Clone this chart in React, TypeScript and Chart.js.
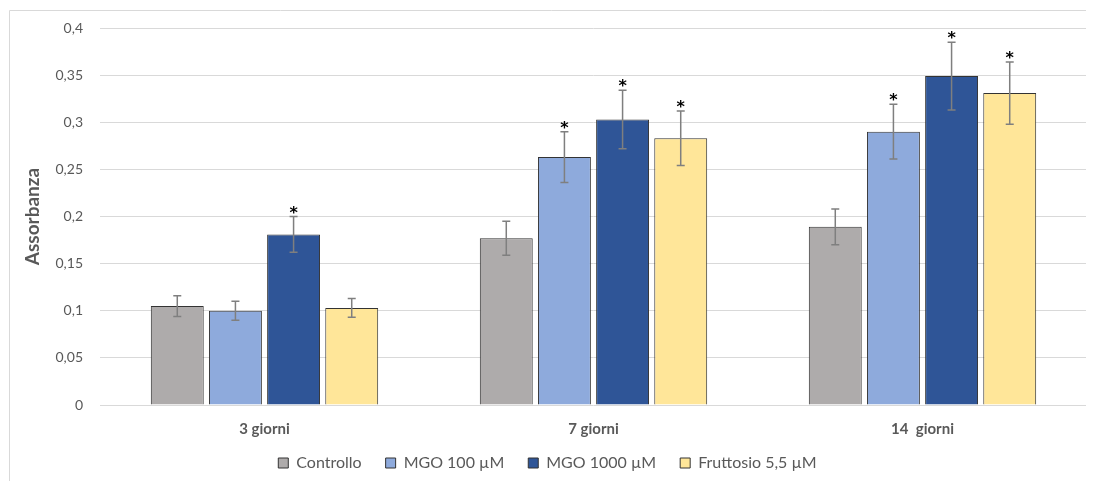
import React, { useEffect, useRef } from "react";
import { Chart, registerables } from "chart.js";

Chart.register(...registerables);

const categories = ["3 giorni", "7 giorni", "14  giorni"];
const seriesNames = ["Controllo", "MGO 100 µM", "MGO 1000 µM", "Fruttosio 5,5 µM"];
const controllo = [0.105, 0.177, 0.189];
const mgo100 = [0.1, 0.263, 0.29];
const mgo1000 = [0.181, 0.303, 0.349];
const fruttosio = [0.103, 0.283, 0.331];
const errControllo = [0.011, 0.018, 0.019];
const errMgo100 = [0.01, 0.027, 0.029];
const errMgo1000 = [0.019, 0.031, 0.036];
const errFruttosio = [0.01, 0.029, 0.033];
const sigControllo = [false, false, false];
const sigMgo100 = [false, true, true];
const sigMgo1000 = [true, true, true];
const sigFruttosio = [false, true, true];
const yTicks = [0, 0.05, 0.1, 0.15, 0.2, 0.25, 0.3, 0.35, 0.4];
const yTickLabels = ["0", "0,05", "0,1", "0,15", "0,2", "0,25", "0,3", "0,35", "0,4"];

const colors = ["#aeabab", "#8eaadc", "#2f5597", "#ffe699"];
const values = [controllo, mgo100, mgo1000, fruttosio];
const errors = [errControllo, errMgo100, errMgo1000, errFruttosio];
const sigs = [sigControllo, sigMgo100, sigMgo1000, sigFruttosio];

const FONT = "Lato, 'Open Sans', sans-serif";
const TEXT = "#595959";

export default function App() {
  const ref = useRef<HTMLCanvasElement | null>(null);
  useEffect(() => {
    if (!ref.current) return;
    const framePlugin = {
      id: "frame",
      beforeDraw(chart: any) {
        const lg = chart.legend;
        if (lg) {
          lg.top = 423;
          lg.bottom = chart.height;
          lg.height = chart.height - 423;
        }
        const ctx = chart.ctx;
        ctx.save();
        ctx.strokeStyle = "#d9d9d9";
        ctx.lineWidth = 1;
        ctx.beginPath();
        ctx.moveTo(1.5, chart.height);
        ctx.lineTo(1.5, 2.5);
        ctx.lineTo(chart.width, 2.5);
        ctx.stroke();
        ctx.restore();
      },
    };
    const legendFit = {
      id: "legendFit",
      beforeInit(chart: any) {
        const orig = chart.legend.fit;
        chart.legend.fit = function () {
          orig.call(this);
          this.height = 36;
        };
      },
    };
    const errPlugin = {
      id: "errbars",
      afterDatasetsDraw(chart: any) {
        const ctx = chart.ctx;
        const y = chart.scales.y;
        ctx.save();
        chart.data.datasets.forEach((ds: any, di: number) => {
          const meta = chart.getDatasetMeta(di);
          meta.data.forEach((el: any, i: number) => {
            const v = values[di][i];
            const e = errors[di][i];
            const top = y.getPixelForValue(v + e);
            const bot = y.getPixelForValue(v - e);
            const x = el.x;
            ctx.strokeStyle = "#7f7f7f";
            ctx.lineWidth = 1.5;
            ctx.beginPath();
            ctx.moveTo(x, top);
            ctx.lineTo(x, bot);
            ctx.moveTo(x - 4, top);
            ctx.lineTo(x + 4, top);
            ctx.moveTo(x - 4, bot);
            ctx.lineTo(x + 4, bot);
            ctx.stroke();
            if (sigs[di][i]) {
              ctx.fillStyle = "#000";
              ctx.font = "bold 16px 'DejaVu Sans', sans-serif";
              ctx.textAlign = "center";
              ctx.textBaseline = "alphabetic";
              ctx.fillText("*", x, top + 1);
            }
          });
        });
        ctx.restore();
      },
    };
    const chart = new Chart(ref.current, {
      type: "bar",
      data: {
        labels: categories,
        datasets: seriesNames.map((n, i) => ({
          label: n,
          data: values[i],
          backgroundColor: colors[i],
          borderColor: "#333333",
          borderWidth: 1,
          categoryPercentage: 0.707,
          barPercentage: 0.91,
        })),
      },
      options: {
        animation: false,
        responsive: false,
        maintainAspectRatio: false,
        layout: { padding: { left: 0, right: 7, top: 20, bottom: 0 } },
        plugins: {
          tooltip: { enabled: false },
          legend: {
            position: "bottom",
            labels: {
              boxWidth: 10,
              boxHeight: 10,
              padding: 24,
              color: TEXT,
              font: { family: FONT, size: 16 },
            },
          },
        },
        scales: {
          x: {
            grid: { display: false },
            border: { display: false },
            ticks: {
              color: TEXT,
              padding: 7,
              font: { family: FONT, size: 15, weight: "bold" },
            },
            afterFit(scale: any) {
              scale.height = 40;
            },
          },
          y: {
            min: 0,
            max: 0.4,
            afterBuildTicks(scale: any) {
              scale.ticks = yTicks.map((v) => ({ value: v }));
            },
            grid: { color: "#d9d9d9", lineWidth: 1, drawTicks: false },
            border: { display: false },
            ticks: {
              color: TEXT,
              padding: 17,
              font: { family: FONT, size: 14 },
              callback: (v: any) => {
                const idx = yTicks.findIndex((t) => Math.abs(t - v) < 1e-9);
                return idx >= 0 ? yTickLabels[idx] : "";
              },
            },
            title: {
              display: true,
              text: "Assorbanza",
              color: TEXT,
              font: { family: FONT, size: 19, weight: "bold" },
              padding: { top: 13, bottom: 0 },
            },
            afterFit(scale: any) {
              scale.width = 92;
              scale.paddingTop = 0;
              scale.paddingBottom = 0;
            },
          },
        },
      },
      plugins: [framePlugin, legendFit, errPlugin],
    } as any);
    return () => chart.destroy();
  }, []);
  return (
    <div style={{ width: 1086, height: 473 }}>
      <canvas ref={ref} width={1086} height={473} style={{ width: 1086, height: 473 }} />
    </div>
  );
}
